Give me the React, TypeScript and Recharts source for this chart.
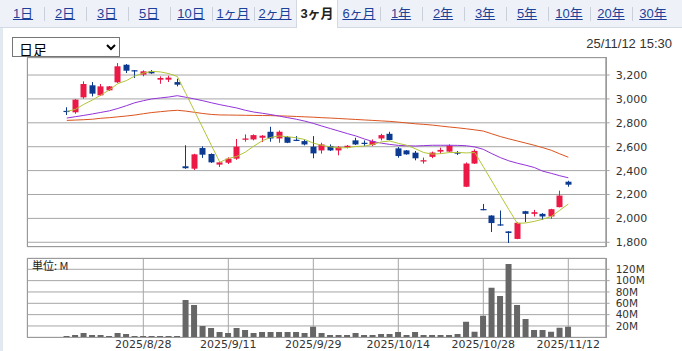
import React from "react";
import {
  ComposedChart,
  Bar,
  Line,
  XAxis,
  YAxis,
  CartesianGrid,
} from "recharts";

// trading days shown (2025)
const dates = [
  "8/15", "8/18", "8/19", "8/20", "8/21", "8/22", "8/25", "8/26", "8/27", "8/28",
  "8/29", "9/1", "9/2", "9/3", "9/4", "9/5", "9/8", "9/9", "9/10", "9/11",
  "9/12", "9/16", "9/17", "9/18", "9/19", "9/22", "9/24", "9/25", "9/26", "9/29",
  "9/30", "10/1", "10/2", "10/3", "10/6", "10/7", "10/8", "10/9", "10/10", "10/14",
  "10/15", "10/16", "10/17", "10/20", "10/21", "10/22", "10/23", "10/24", "10/27", "10/28",
  "10/29", "10/30", "10/31", "11/4", "11/5", "11/6", "11/7", "11/10", "11/11", "11/12",
];

const openP = [
  2900, 2888, 3013, 3114, 3030, 3072, 3139, 3286, 3240, 3203,
  3231, 3161, 3161, 3141, 2436, 2416, 2589, 2539, 2450, 2466,
  2500, 2658, 2661, 2675, 2725, 2669, 2681, 2658, 2647, 2600,
  2569, 2606, 2569, 2592, 2653, 2633, 2614, 2669, 2708, 2586,
  2569, 2550, 2476, 2515, 2559, 2559, 2556, 2265, 2459, 2078,
  2024, 1950, 1891, 1828, 2060, 2038, 2038, 2016, 2094, 2307,
];
const highP = [
  2930, 2998, 3147, 3141, 3125, 3108, 3300, 3292, 3242, 3239,
  3242, 3189, 3194, 3169, 2612, 2541, 2603, 2544, 2478, 2511,
  2665, 2703, 2703, 2697, 2767, 2736, 2689, 2689, 2661, 2689,
  2633, 2619, 2606, 2614, 2675, 2653, 2661, 2708, 2725, 2597,
  2572, 2564, 2509, 2559, 2592, 2620, 2564, 2468, 2578, 2121,
  2026, 2066, 1893, 1966, 2063, 2071, 2044, 2080, 2232, 2315,
];
const lowP = [
  2865, 2876, 3002, 3021, 3024, 3068, 3133, 3217, 3175, 3189,
  3210, 3127, 3141, 3105, 2415, 2405, 2506, 2464, 2430, 2455,
  2490, 2642, 2653, 2639, 2642, 2633, 2630, 2647, 2611, 2503,
  2542, 2564, 2528, 2586, 2614, 2606, 2606, 2653, 2653, 2508,
  2533, 2486, 2459, 2504, 2542, 2556, 2531, 2262, 2456, 2068,
  1886, 1938, 1794, 1826, 1969, 2016, 1988, 1997, 2092, 2265,
];
const closeP = [
  2890, 2994, 3125, 3044, 3105, 3105, 3273, 3236, 3234, 3231,
  3214, 3175, 3178, 3119, 2420, 2536, 2533, 2469, 2469, 2500,
  2600, 2669, 2697, 2692, 2669, 2725, 2633, 2653, 2619, 2544,
  2619, 2569, 2597, 2608, 2619, 2625, 2647, 2697, 2656, 2522,
  2536, 2503, 2487, 2551, 2573, 2609, 2542, 2459, 2565, 2070,
  1961, 1941, 1878, 1963, 2038, 2052, 2016, 2077, 2191, 2282,
];

// moving averages
const ma5 = [
  2896, 2912, 2955, 2990, 3032, 3075, 3128, 3153, 3192, 3216,
  3231, 3226, 3212, 3188, 3045, 2902, 2757, 2612, 2470, 2502,
  2518, 2555, 2605, 2650, 2678, 2690, 2683, 2675, 2660, 2630,
  2612, 2599, 2590, 2592, 2602, 2605, 2619, 2640, 2648, 2628,
  2612, 2583, 2551, 2538, 2542, 2551, 2552, 2548, 2551, 2432,
  2313, 2193, 2074, 1958, 1962, 1975, 1993, 2016, 2068, 2120,
];
const ma25 = [
  2840, 2851, 2862, 2874, 2887, 2900, 2920, 2943, 2968, 2985,
  3000, 3008, 3016, 3027, 3014, 3000, 2985, 2968, 2952, 2938,
  2924, 2905, 2890, 2880, 2869, 2856, 2843, 2830, 2814, 2795,
  2773, 2752, 2731, 2710, 2690, 2665, 2643, 2630, 2619, 2611,
  2608, 2606, 2609, 2612, 2612, 2612, 2611, 2608, 2598, 2578,
  2542, 2509, 2482, 2462, 2445, 2426, 2395, 2377, 2357, 2340,
];
const ma75 = [
  2820, 2823, 2826, 2830, 2838, 2843, 2850, 2857, 2865, 2876,
  2886, 2893, 2900, 2905, 2898, 2888, 2878, 2870, 2866, 2865,
  2864, 2863, 2862, 2861, 2860, 2858, 2856, 2853, 2850, 2847,
  2843, 2840, 2836, 2832, 2828, 2824, 2820, 2816, 2812, 2806,
  2799, 2792, 2787, 2781, 2773, 2765, 2758, 2750, 2741, 2731,
  2708, 2685, 2666, 2648, 2630, 2612, 2592, 2570, 2540, 2512,
];

// volume, millions of shares
const volume = [
  2.4, 4.1, 7.6, 4.1, 4.1, 2.4, 7.6, 5.9, 2.4, 2.4,
  2.4, 2.4, 2.4, 2.4, 65.9, 57, 20, 16.5, 9.4, 7.6,
  16.5, 12.9, 7.6, 9.4, 9.4, 9.4, 9.4, 9.4, 7.6, 18.8,
  7.6, 4.1, 4.1, 4.1, 7.6, 4.1, 4.1, 5.9, 5.9, 9.4,
  4.1, 9.4, 4.1, 4.1, 4.1, 4.1, 5.9, 27.6, 10, 38.2,
  87.6, 72.9, 129.4, 57, 32.3, 12.9, 12.9, 10, 17, 18.8,
];

const tabs = ["1日", "2日", "3日", "5日", "10日", "1ヶ月", "2ヶ月", "3ヶ月", "6ヶ月", "1年", "2年", "3年", "5年", "10年", "20年", "30年"];
const activeTab = "3ヶ月";
const priceTicks = [1800, 2000, 2200, 2400, 2600, 2800, 3000, 3200];
const volumeTicks = [20, 40, 60, 80, 100, 120];
const dateTicks = [9, 19, 29, 39, 49, 59];

const UP = "#ec1846";
const DOWN = "#0c3a90";
const GRID = "#a6a6a6";
const X_DOMAIN = [-4.65, 63.4];
const AXIS_FONT = { fill: "#333", fontSize: 11, fontFamily: "DejaVu Sans" };

const priceRows = dates.map((d, i) => ({
  i,
  o: openP[i],
  h: highP[i],
  l: lowP[i],
  c: closeP[i],
  ma5: ma5[i],
  ma25: ma25[i],
  ma75: ma75[i],
}));
const volumeRows = dates.map((d, i) => ({ i, vol: volume[i] }));

// candle: the bar spans low..high, body drawn inside it
function Candle(props: any) {
  const { x, y, width, height, payload } = props;
  if (!payload) return null;
  const { o, h, l, c } = payload;
  const color = c >= o ? UP : DOWN;
  const top = Math.min(y, y + height);
  const span = Math.abs(height);
  const k = h > l ? span / (h - l) : 0;
  const bt = top + (h - Math.max(o, c)) * k;
  const bb = top + (h - Math.min(o, c)) * k;
  const cx = Math.floor(x + width / 2) + 0.5;
  return (
    <g>
      <line x1={cx} x2={cx} y1={top} y2={top + span} stroke={color} strokeWidth={1} />
      <rect x={cx - 3} y={bt} width={6} height={Math.max(1.2, bb - bt)} fill={color} />
    </g>
  );
}

export default function App() {
  return (
    <div
      style={{
        position: "absolute",
        left: 0,
        top: 0,
        width: 682,
        height: 351,
        background: "#fff",
        overflow: "hidden",
        fontFamily: "'Liberation Sans', Arial, 'Noto Sans CJK JP', sans-serif",
      }}
    >
      {/* tab bar */}
      <div
        style={{
          position: "absolute",
          left: 0,
          top: 0,
          width: 682,
          height: 27,
          background: "#eef2f8",
          borderBottom: "1px solid #d3d9e3",
        }}
      />
      {tabs.map((t, k) => {
        const active = t === activeTab;
        return (
          <div
            key={t}
            style={{
              position: "absolute",
              left: 2 + k * 42,
              top: 0,
              width: 42,
              height: active ? 28 : 27,
              background: active ? "#fff" : "transparent",
              borderLeft: active ? "1px solid #d3d9e3" : "none",
              borderRight: active ? "1px solid #d3d9e3" : "none",
              boxSizing: "border-box",
              textAlign: "center",
              lineHeight: "27px",
              fontSize: 13,
              color: active ? "#222" : "#1d4198",
              fontWeight: active ? "bold" : "normal",
              textDecoration: active ? "none" : "underline",
            }}
          >
            {t}
          </div>
        );
      })}
      {tabs.map((t, k) =>
        k > 0 && t !== activeTab && tabs[k - 1] !== activeTab ? (
          <div
            key={"s" + t}
            style={{
              position: "absolute",
              left: 2 + k * 42,
              top: 7,
              width: 1,
              height: 14,
              background: "#c9d0da",
            }}
          />
        ) : null
      )}
      <div style={{ position: "absolute", left: 0, top: 28, width: 3, height: 323, background: "#e3e9f1" }} />

      <select
        defaultValue="d"
        style={{
          position: "absolute",
          left: 12,
          top: 37,
          width: 108,
          height: 20,
          fontSize: 14,
          fontFamily: "'Noto Sans CJK JP', sans-serif",
          padding: "0 2px",
          background: "#fff",
        }}
      >
        <option value="d">日足</option>
      </select>
      <div
        style={{
          position: "absolute",
          right: 10,
          top: 36,
          fontSize: 13,
          color: "#333",
          lineHeight: "16px",
        }}
      >
        25/11/12 15:30
      </div>

      {/* price panel */}
      <div style={{ position: "absolute", left: 0, top: 0 }}>
        <ComposedChart
          width={682}
          height={250}
          data={priceRows}
          margin={{ top: 57.7, left: 27.3, right: 0, bottom: 3.3 }}
        >
          <CartesianGrid stroke={GRID} />
          <XAxis
            type="number"
            dataKey="i"
            domain={X_DOMAIN}
            ticks={dateTicks}
            allowDataOverflow
            height={0}
            tick={false}
            axisLine={false}
            tickLine={false}
          />
          <YAxis
            orientation="right"
            domain={[1763, 3345]}
            ticks={priceTicks}
            interval={0}
            allowDataOverflow
            width={76.3}
            axisLine={false}
            tickSize={4}
            tickMargin={6}
            tickLine={{ stroke: GRID }}
            tick={AXIS_FONT}
            tickFormatter={(v) => Number(v).toLocaleString("en-US")}
          />
          <Bar
            dataKey={(d: any) => [d.l, d.h]}
            barSize={6}
            shape={Candle}
            isAnimationActive={false}
          />
          <Line type="linear" dataKey="ma75" stroke="#da541f" strokeWidth={1} dot={false} isAnimationActive={false} />
          <Line type="linear" dataKey="ma25" stroke="#9333d8" strokeWidth={1} dot={false} isAnimationActive={false} />
          <Line type="linear" dataKey="ma5" stroke="#b3c536" strokeWidth={1} dot={false} isAnimationActive={false} />
        </ComposedChart>
      </div>
      <div
        style={{
          position: "absolute",
          left: 27,
          top: 57,
          width: 580,
          height: 190,
          border: "1px solid #9a9a9a",
          boxSizing: "border-box",
          pointerEvents: "none",
        }}
      />

      {/* volume panel */}
      <div style={{ position: "absolute", left: 0, top: 250 }}>
        <ComposedChart
          width={682}
          height={101}
          data={volumeRows}
          margin={{ top: 8.3, left: 27.3, right: 0, bottom: 0 }}
        >
          <CartesianGrid stroke={GRID} />
          <XAxis
            type="number"
            dataKey="i"
            domain={X_DOMAIN}
            ticks={dateTicks}
            interval={0}
            allowDataOverflow
            height={13.7}
            axisLine={false}
            tickLine={false}
            tickSize={0}
            tickMargin={3}
            tick={AXIS_FONT}
            tickFormatter={(v) => "2025/" + dates[v]}
          />
          <YAxis
            orientation="right"
            domain={[0, 139.4]}
            ticks={volumeTicks}
            interval={0}
            allowDataOverflow
            width={76.3}
            axisLine={false}
            tickSize={4}
            tickMargin={6}
            tickLine={{ stroke: GRID }}
            tick={{ ...AXIS_FONT, fontSize: 10.5 }}
            tickFormatter={(v) => v + "M"}
          />
          <Bar dataKey="vol" barSize={6} fill="#666666" isAnimationActive={false} />
        </ComposedChart>
      </div>
      <div
        style={{
          position: "absolute",
          left: 27,
          top: 258,
          width: 580,
          height: 80,
          border: "1px solid #9a9a9a",
          boxSizing: "border-box",
          pointerEvents: "none",
        }}
      />
      <div
        style={{
          position: "absolute",
          left: 32,
          top: 259,
          fontSize: 11,
          lineHeight: "13px",
          color: "#222",
          fontFamily: "'Noto Sans CJK JP', sans-serif",
        }}
      >
        単位: M
      </div>
    </div>
  );
}
